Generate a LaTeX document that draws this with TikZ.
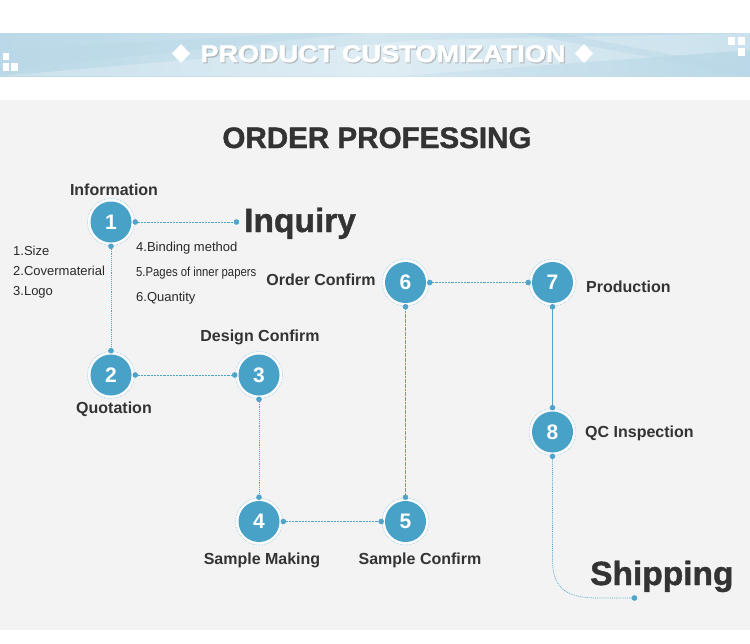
\documentclass[tikz,border=0pt]{standalone}
\usepackage{fontspec}
\setmainfont{Liberation Sans}
\newfontfamily\heavyfont{Liberation Sans}[FakeBold=1.3]
\usetikzlibrary{arrows.meta,shapes.geometric}
\definecolor{stepblue}{RGB}{72,162,200}
\definecolor{linkblue}{RGB}{80,164,202}
\definecolor{txt}{RGB}{51,51,51}
\definecolor{panel}{RGB}{244,243,244}
\definecolor{bannerA}{RGB}{186,216,231}
\definecolor{bannerB}{RGB}{212,231,240}
\begin{document}
\begin{tikzpicture}[x=1pt,y=-1pt,
  stepnode/.style={circle, minimum size=47pt, inner sep=0pt,
    draw=stepblue!75, densely dotted, line width=0.5pt, fill=white!70!panel,
    path picture={\fill[stepblue] (path picture bounding box.center) circle (20.5pt);},
    text=white, font=\bfseries\fontsize{21}{21}\selectfont},
  lbl/.style={text=txt, font=\bfseries\fontsize{16}{16}\selectfont, inner sep=0pt},
  item/.style={text=txt!80!black, font=\fontsize{13}{13}\selectfont, inner sep=0pt, anchor=west},
  big/.style={text=txt, font=\heavyfont\bfseries\fontsize{33.5}{33.5}\selectfont, inner sep=0pt, anchor=base west},
  link/.style={draw=linkblue, line width=0.7pt, {Circle[length=5.5pt,width=5.5pt,sep=-2.2pt]}-{Circle[length=5.5pt,width=5.5pt,sep=-2.2pt]}},
  linkdash/.style={link, dash pattern=on 2.2pt off 1pt},
  linkdot/.style={link, dash pattern=on 0.9pt off 1pt},
  linksolid/.style={link, line width=0.9pt},
  whitesq/.style={fill=white}
]
\useasboundingbox (0,0) rectangle (750,643);
\fill[white] (0,0) rectangle (750,643);
% banner
\shade[left color=bannerA, right color=bannerA, middle color=bannerB] (0,33) rectangle (750,76);
\fill[white, opacity=0.25] (0,76) -- (420,40) -- (750,33) -- (750,50) -- (400,76) -- cycle;
\fill[bannerA, opacity=0.45] (0,50) -- (300,33) -- (360,33) -- (0,70) -- cycle;
\fill[bannerA, opacity=0.45] (560,33) -- (750,70) -- (750,76) -- (520,33) -- cycle;
\fill[whitesq] (3,53) rectangle (9,60);
\fill[whitesq] (3,63) rectangle (9,71);
\fill[whitesq] (11,63) rectangle (18,71);
\fill[whitesq] (728,37) rectangle (735,45);
\fill[whitesq] (738,37) rectangle (745,45);
\fill[whitesq] (738,48) rectangle (745,56);
% banner title
\node[text=black!40, opacity=0.5, inner sep=0pt, anchor=base, font=\heavyfont\bfseries\fontsize{24}{24}\selectfont] at (384.2,63.2) {\scalebox{1.13}[1]{PRODUCT CUSTOMIZATION}};
\node (bannertitle) [text=white, inner sep=0pt, anchor=base, font=\heavyfont\bfseries\fontsize{24}{24}\selectfont] at (383,62) {\scalebox{1.13}[1]{PRODUCT CUSTOMIZATION}};
\fill[white] (181,44) -- (190,53.5) -- (181,63) -- (172,53.5) -- cycle;
\fill[white] (584,44) -- (593,53.5) -- (584,63) -- (575,53.5) -- cycle;
% panel
\fill[panel] (0,100) rectangle (750,630);
\node (title) [text=txt, inner sep=0pt, anchor=base, font=\heavyfont\bfseries\fontsize{29.6}{29.6}\selectfont] at (377,148) {ORDER PROFESSING};
% steps
\node[stepnode] (n1) at (111,222) {1};
\node[stepnode] (n2) at (111,375) {2};
\node[stepnode] (n3) at (259,375) {3};
\node[stepnode] (n4) at (259,521.5) {4};
\node[stepnode] (n5) at (405.5,521.5) {5};
\node[stepnode] (n6) at (405.5,282.5) {6};
\node[stepnode] (n7) at (552.5,282.5) {7};
\node[stepnode] (n8) at (552.5,432) {8};
% labels
\node[lbl] (l1) at (114,190) {Information};
\node[lbl] (l2) at (114,409) {Quotation};
\node[lbl] (l3) at (260,337) {Design Confirm};
\node[lbl] (l4) at (262,560) {Sample Making};
\node[lbl] (l5) at (420,560) {Sample Confirm};
\node[lbl] (l6) at (321,280) {Order Confirm};
\node[lbl, anchor=west] (l7) at (586,287) {Production};
\node[lbl, anchor=west] (l8) at (585,433) {QC Inspection};
\node[big] (inquiry) at (244,232) {Inquiry};
\node[big] (shipping) at (590,585) {Shipping};
% items
\node[item] (i1) at (13,251) {1.Size};
\node[item] (i2) at (13,271) {2.Covermaterial};
\node[item] (i3) at (13,292) {3.Logo};
\node[item] (i4) at (136,248) {4.Binding method};
\node[item] (i5) at (136,273) {\scalebox{0.87}[1]{5.Pages of inner papers}};
\node[item] (i6) at (136,298) {6.Quantity};
% connectors
\coordinate (inqdot) at (237,222);
\coordinate (shipdot) at (635,598);
\draw[linkdash] (n1.east) -- (inqdot);
\draw[linkdot] (n1.south) -- (n2.north);
\draw[linkdash] (n2.east) -- (n3.west);
\draw[linkdot] (n3.south) -- (n4.north);
\draw[linkdash] (n4.east) -- (n5.west);
\draw[linksolid, dash pattern=on 2pt off 0.6pt] (n5.north) -- (n6.south);
\draw[linkdash] (n6.east) -- (n7.west);
\draw[linksolid] (n7.south) -- (n8.north);
\draw[linkdot] (n8.south) -- (552.5,560) .. controls (552.5,588) and (566,598) .. (598,598) -- (shipdot);
\end{tikzpicture}
\end{document}
